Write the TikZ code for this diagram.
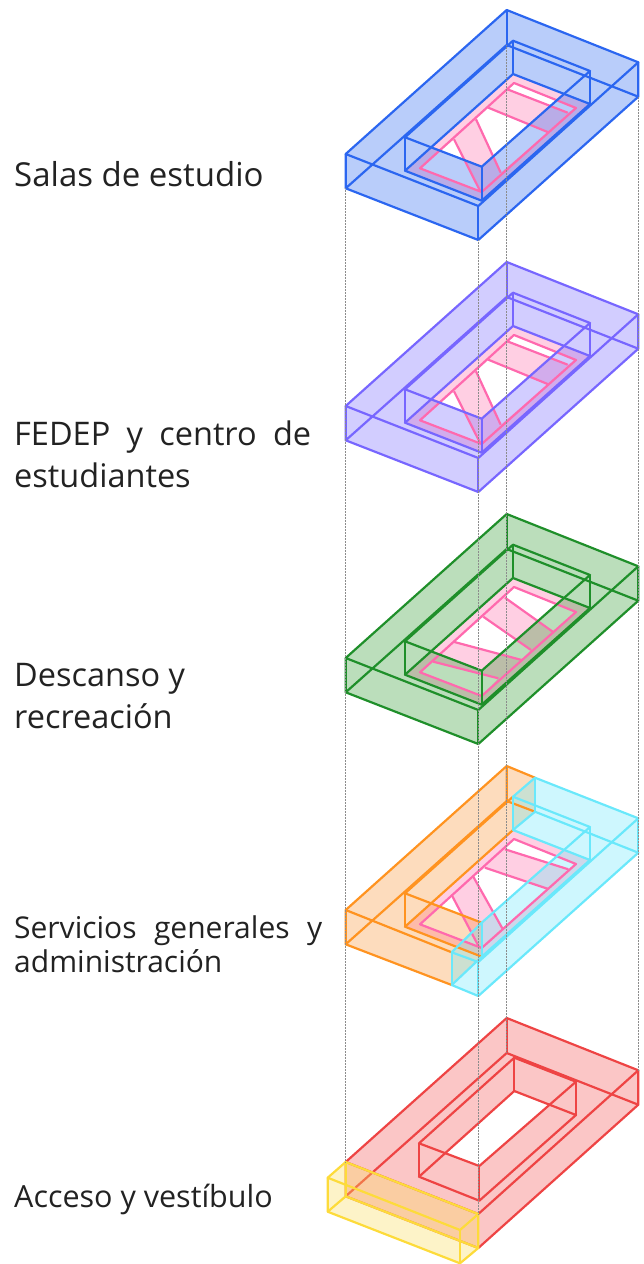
\documentclass[tikz,border=0pt]{standalone}
\usepackage{fontspec}
\setmainfont{Open Sans}
\definecolor{salascol}{HTML}{2B66F0}
\definecolor{fedepcol}{HTML}{7766FF}
\definecolor{descansocol}{HTML}{1F8F2A}
\definecolor{descansofill}{HTML}{319B31}
\definecolor{serviciocol}{HTML}{FF9320}
\definecolor{serviciofill}{HTML}{F99537}
\definecolor{admincol}{HTML}{6AE8FB}
\definecolor{accesocol}{HTML}{EE4444}
\definecolor{accesofill}{HTML}{F35353}
\definecolor{vestibulocol}{HTML}{FDDB3A}
\definecolor{vestibulofill}{HTML}{F9DB58}
\definecolor{floorcol}{HTML}{FFCFE3}
\definecolor{bandcol}{HTML}{FF69AE}
\definecolor{labelcol}{HTML}{222222}

\tikzset{
    wire/.style={line width=2.2pt, line join=round},
    shell/.style={fill=#1, fill opacity=.33, even odd rule},
    guide/.style={black!45, line width=.5pt, densely dotted},
    label/.style={anchor=west, align=left, text=labelcol, inner sep=0pt, font=\fontsize{32.5}{42}\selectfont},
    justlabel/.style={label, text width=#1, align=justify},
}

% corners of one level, in the shift of the current scope
\newcommand{\setcorners}{
    \coordinate (oB) at (506.7,10);
    \coordinate (oR) at (638.3,62.3);
    \coordinate (oF) at (478.3,206);
    \coordinate (oL) at (345.7,154);
    \coordinate (oBb) at (506.7,45);
    \coordinate (oRb) at (638.3,96.7);
    \coordinate (oFb) at (478.3,240);
    \coordinate (oLb) at (345.7,188.3);
    \coordinate (iB) at (513,40.7);
    \coordinate (iR) at (590,71);
    \coordinate (iF) at (481.7,166.7);
    \coordinate (iL) at (405,137.3);
    \coordinate (iBb) at (513,74);
    \coordinate (iRb) at (590,104);
    \coordinate (iFb) at (481.7,200.7);
    \coordinate (iLb) at (405,170.7);
    \coordinate (r1) at (514,83);
    \coordinate (r2) at (576,108);
    \coordinate (r3) at (481.7,192);
    \coordinate (r4) at (420,168.3);
}
\newcommand{\setholes}{
    \coordinate (hL) at (intersection of iBb--iLb and iL--iF);
    \coordinate (hR) at (intersection of iF--iR and iBb--iRb);
}
% floor with two crossing bands
\newcommand{\bandfloor}{
    \fill[floorcol, even odd rule] (iBb) -- (iRb) -- (iFb) -- (iLb) -- cycle
        (r4) -- (a1) -- (a2) -- cycle
        (b1) -- (c1) -- (c2) -- (b2) -- cycle
        (r1) -- (r2) -- (d2) -- (d1) -- cycle;
}
\newcommand{\bandlines}{
    \draw[wire, bandcol] (r1) -- (r2) -- (r3) -- (r4) -- cycle;
    \draw[wire, bandcol] (a1) -- (a2);
    \draw[wire, bandcol] (b1) -- (b2);
    \draw[wire, bandcol] (c1) -- (c2);
    \draw[wire, bandcol] (d1) -- (d2);
}
\newcommand{\setbands}{
    \coordinate (a1) at (454,139.3);
    \coordinate (a2) at (480,190.7);
    \coordinate (b1) at (476,119.3);
    \coordinate (b2) at (500.7,172.7);
    \coordinate (c1) at (488.3,107.7);
    \coordinate (c2) at (548.3,132.3);
    \coordinate (d1) at (507.3,89.3);
    \coordinate (d2) at (567.7,112.7);
}
\newcommand{\ringfill}[1]{
    \fill[shell=#1] (oB) -- (oR) -- (oRb) -- (oFb) -- (oLb) -- (oL) -- cycle
        (iBb) -- (hR) -- (iF) -- (hL) -- cycle;
}
\newcommand{\ringlines}[1]{
    \draw[wire, #1] (oB) -- (oR) -- (oF) -- (oL) -- cycle;
    \draw[wire, #1] (oL) -- (oLb) -- (oFb) -- (oRb) -- (oR);
    \draw[wire, #1] (oF) -- (oFb);
    \draw[wire, #1] (oB) -- (oBb);
    \draw[wire, #1] (oLb) -- (oBb) -- (oRb);
    \draw[wire, #1] (iB) -- (iR) -- (iF) -- (iL) -- cycle;
    \draw[wire, #1] (iBb) -- (iRb) -- (iFb) -- (iLb) -- cycle;
    \draw[wire, #1] (iB) -- (iBb);
    \draw[wire, #1] (iR) -- (iRb);
    \draw[wire, #1] (iF) -- (iFb);
    \draw[wire, #1] (iL) -- (iLb);
}

\begin{document}
\begin{tikzpicture}[x=1pt, y=-1pt]
  \useasboundingbox (0,0) rectangle (643,1264);

  % Salas de estudio and FEDEP
  \foreach \lvl/\col in {0/salascol, 1/fedepcol} {
    \begin{scope}[shift={(0,252*\lvl)}]
      \setcorners \setholes \setbands
      \bandfloor
      \ringfill{\col}
      \bandlines
      \ringlines{\col}
      \coordinate (lvl\lvl L) at (oLb);
      \coordinate (lvl\lvl F) at (oFb);
      \coordinate (lvl\lvl B) at (oBb);
      \coordinate (lvl\lvl R) at (oRb);
    \end{scope}
  }

  % Descanso
  \begin{scope}[shift={(0,504)}]
    \setcorners \setholes
    \coordinate (e1) at (505,93.7);
    \coordinate (e2) at (552.7,127.7);
    \coordinate (f1) at (483.3,112.7);
    \coordinate (f2) at (531,146);
    \coordinate (g1) at (453.3,137.7);
    \coordinate (g2) at (521.7,156);
    \coordinate (h1) at (433.3,157.7);
    \coordinate (h2) at (498.3,174.3);
    \fill[floorcol, even odd rule] (iBb) -- (iRb) -- (iFb) -- (iLb) -- cycle
        (r1) -- (r2) -- (e2) -- (e1) -- cycle
        (f1) -- (f2) -- (g2) -- (g1) -- cycle
        (h1) -- (h2) -- (r3) -- (r4) -- cycle;
    \ringfill{descansofill}
    \draw[wire, bandcol] (r1) -- (r2) -- (r3) -- (r4) -- cycle;
    \draw[wire, bandcol] (e1) -- (e2);
    \draw[wire, bandcol] (f1) -- (f2);
    \draw[wire, bandcol] (g1) -- (g2);
    \draw[wire, bandcol] (h1) -- (h2);
    \ringlines{descansocol}
  \end{scope}

  % Servicios generales / administracion
  \begin{scope}[shift={(0,756)}]
    \setcorners \setholes
    \coordinate (a1) at (451.7,139);
    \coordinate (a2) at (479,191);
    \coordinate (b1) at (473.3,120.7);
    \coordinate (b2) at (502.3,172.3);
    \coordinate (c1) at (485,111.7);
    \coordinate (c2) at (548.3,133);
    \coordinate (d1) at (505,93.3);
    \coordinate (d2) at (568.3,113.3);
    \coordinate (cutT) at (535,21.7);
    \coordinate (cutTb) at (535,55.7);
    \coordinate (cutF) at (451.7,196.3);
    \coordinate (cutFb) at (451.7,229);
    \bandfloor
    \fill[shell=serviciofill] (oL) -- (oB) -- (cutT) -- (cutTb) -- (iBb) -- (hL) -- (iF) -- (iFb) -- (cutFb) -- (oLb) -- cycle;
    \fill[shell=admincol] (cutT) -- (oR) -- (oRb) -- (oFb) -- (cutFb) -- (cutF) -- (iF) -- (hR) -- (iBb) -- (iB) -- cycle;
    \bandlines
    % left part of the ring
    \draw[wire, serviciocol] (cutT) -- (oB) -- (oL) -- (oLb) -- (cutFb);
    \draw[wire, serviciocol] (oL) -- (cutF);
    \draw[wire, serviciocol] (oB) -- (oBb) -- (cutTb);
    \draw[wire, serviciocol] (oLb) -- (oBb);
    \draw[wire, serviciocol] (iB) -- (iL) -- (iF);
    \draw[wire, serviciocol] (iBb) -- (iLb) -- (iFb);
    \draw[wire, serviciocol] (iL) -- (iLb);
    % right part of the ring
    \draw[wire, admincol] (cutT) -- (oR) -- (oF) -- (cutF) -- (iF) -- (iR) -- (iB) -- cycle;
    \draw[wire, admincol] (cutTb) -- (oRb) -- (oFb) -- (cutFb) -- (iFb) -- (iRb) -- (iBb) -- cycle;
    \draw[wire, admincol] (cutT) -- (cutTb);
    \draw[wire, admincol] (oR) -- (oRb);
    \draw[wire, admincol] (oF) -- (oFb);
    \draw[wire, admincol] (cutF) -- (cutFb);
    \draw[wire, admincol] (iB) -- (iBb);
    \draw[wire, admincol] (iR) -- (iRb);
    \draw[wire, admincol] (iF) -- (iFb);
  \end{scope}

  % Acceso y vestibulo
  \begin{scope}[shift={(0,1008)}]
    \setcorners
    \coordinate (iB) at (514.3,49.7);
    \coordinate (iR) at (576,73.7);
    \coordinate (iF) at (479.3,158);
    \coordinate (iL) at (419,135.3);
    \coordinate (iBb) at (514.3,83);
    \coordinate (iRb) at (576,107);
    \coordinate (iFb) at (479.3,192.7);
    \coordinate (iLb) at (419,168.7);
    \setholes
    \ringfill{accesofill}
    \ringlines{accesocol}
    \coordinate (endL) at (oL);
    \coordinate (endF) at (oF);
    \coordinate (endB) at (oBb);
    \coordinate (endR) at (oR);
    \coordinate (yC) at (460,222);
    \coordinate (yD) at (327.7,169.7);
    \coordinate (yDb) at (327.7,203.7);
    \coordinate (yCb) at (460,255.3);
    \fill[shell=vestibulofill] (oL) -- (oF) -- (oFb) -- (yCb) -- (yDb) -- (yD) -- cycle;
    \draw[wire, vestibulocol] (oL) -- (oF) -- (yC) -- (yD) -- cycle;
    \draw[wire, vestibulocol] (yD) -- (yDb) -- (yCb) -- (oFb) -- (oF);
    \draw[wire, vestibulocol] (yC) -- (yCb);
    \draw[wire, vestibulocol] (oL) -- (oLb) -- (oFb);
    \draw[wire, vestibulocol] (oLb) -- (yDb);
  \end{scope}

  % dotted lines between the levels
  \draw[guide] (lvl0L) -- (endL);
  \draw[guide] (lvl0F) -- (endF);
  \draw[guide] (lvl0B) -- (endB);
  \draw[guide] (lvl0R) -- (endR);

  % labels
  \node[label, font=\fontsize{33}{42}\selectfont] (salas) at (14,174) {Salas de estudio};
  \node[justlabel=297pt] (fedep) at (14,454) {FEDEP y centro de\linebreak estudiantes};
  \node[label] (descanso) at (14,696.5) {Descanso y\\recreación};
  \node[justlabel=308pt, font=\fontsize{30}{34}\selectfont] (servicios) at (14,944) {Servicios generales y\linebreak administración};
  \node[label, font=\fontsize{30.5}{36}\selectfont] (acceso) at (14,1199) {Acceso y vestíbulo};
\end{tikzpicture}
\end{document}
